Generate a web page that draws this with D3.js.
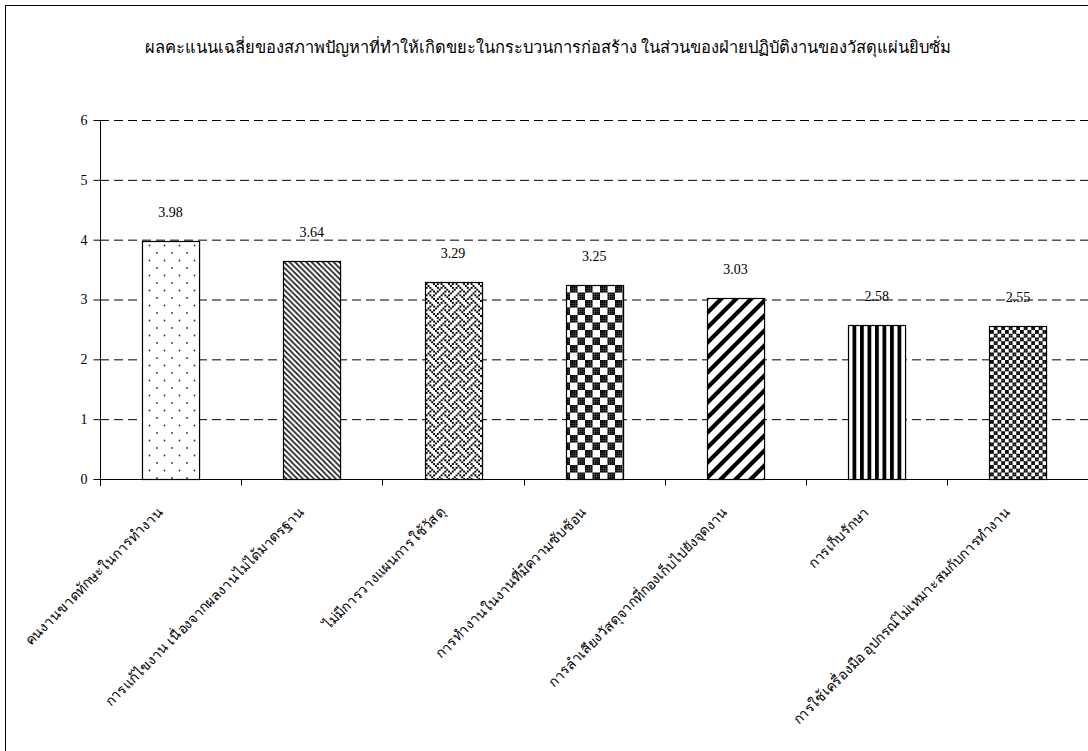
<!DOCTYPE html>
<html>
<head>
<meta charset="utf-8">
<script src="https://cdn.jsdelivr.net/npm/d3@7/dist/d3.min.js"></script>
<style>
  html, body { margin: 0; padding: 0; background: #fff; }
  svg { display: block; }
  text { font-family: "Liberation Serif", "DejaVu Serif", serif; fill: #000; }
</style>
</head>
<body>
<script>
const title = "ผลคะแนนเฉลี่ยของสภาพปัญหาที่ทำให้เกิดขยะในกระบวนการก่อสร้าง ในส่วนของฝ่ายปฏิบัติงานของวัสดุแผ่นยิบซั่ม";
const categories = [
  "คนงานขาดทักษะในการทำงาน",
  "การแก้ไขงาน เนื่องจากผลงานไม่ได้มาตรฐาน",
  "ไม่มีการวางแผนการใช้วัสดุ",
  "การทำงานในงานที่มีความซับซ้อน",
  "การลำเลียงวัสดุจากที่กองเก็บไปยังจุดงาน",
  "การเก็บรักษา",
  "การใช้เครื่องมือ อุปกรณ์ไม่เหมาะสมกับการทำงาน"
];
const values = [3.98, 3.64, 3.29, 3.25, 3.03, 2.58, 2.55];
const valueLabels = ["3.98", "3.64", "3.29", "3.25", "3.03", "2.58", "2.55"];
const yTicks = [0, 1, 2, 3, 4, 5, 6];

const W = 1088, H = 751;
const svg = d3.select("body").append("svg").attr("width", W).attr("height", H);
const defs = svg.append("defs");

// ---- pattern fills (style) ----
const cell = 15 / 8;
function bitmapPattern(id, rows) {
  const p = defs.append("pattern").attr("id", id).attr("patternUnits", "userSpaceOnUse")
    .attr("width", 15).attr("height", 15);
  p.append("rect").attr("width", 15).attr("height", 15).attr("fill", "#fff");
  rows.forEach((r, j) => {
    for (let i = 0; i < 8; i++) {
      if (r[i] === "1") p.append("rect").attr("x", i * cell).attr("y", j * cell)
        .attr("width", cell + 0.05).attr("height", cell + 0.05).attr("fill", "#000");
    }
  });
}
// dots
(function () {
  const p = defs.append("pattern").attr("id", "p0").attr("patternUnits", "userSpaceOnUse")
    .attr("width", 15).attr("height", 15).attr("x", 146).attr("y", 2);
  p.append("rect").attr("width", 15).attr("height", 15).attr("fill", "#fff");
  p.append("circle").attr("cx", 3.5).attr("cy", 3.5).attr("r", 0.9).attr("fill", "#333");
  p.append("circle").attr("cx", 11).attr("cy", 11).attr("r", 0.9).attr("fill", "#333");
})();
// dense downward diagonal
(function () {
  const s = 5.5;
  const p = defs.append("pattern").attr("id", "p1").attr("patternUnits", "userSpaceOnUse")
    .attr("width", s).attr("height", s);
  p.append("rect").attr("width", s).attr("height", s).attr("fill", "#fff");
  p.append("path").attr("d", `M${-s},0 L${s},${2 * s} M0,${-s} L${2 * s},${s} M${-s},${-s} L${2*s},${2*s}`)
    .attr("stroke", "#111").attr("stroke-width", 1.5);
})();
// weave
bitmapPattern("p2", [
  "10001000",
  "01010100",
  "00100010",
  "01000101",
  "10001000",
  "00010101",
  "00100010",
  "01010001"
]);
// large checkerboard
bitmapPattern("p3", [
  "11110000", "11110000", "11110000", "11110000",
  "00001111", "00001111", "00001111", "00001111"
]);
// wide upward diagonal
(function () {
  const s = 15;
  const p = defs.append("pattern").attr("id", "p4").attr("patternUnits", "userSpaceOnUse")
    .attr("width", s).attr("height", s);
  p.append("rect").attr("width", s).attr("height", s).attr("fill", "#fff");
  p.append("path").attr("d", `M${-s},${s} L${s},${-s} M${-s},${2 * s} L${2 * s},${-s} M0,${2 * s} L${2 * s},0`)
    .attr("stroke", "#000").attr("stroke-width", 4.2);
})();
// dark vertical
(function () {
  const s = 7.5;
  const p = defs.append("pattern").attr("id", "p5").attr("patternUnits", "userSpaceOnUse")
    .attr("width", s).attr("height", s).attr("x", 845);
  p.append("rect").attr("width", s).attr("height", s).attr("fill", "#fff");
  p.append("rect").attr("x", 0).attr("width", 3.8).attr("height", s).attr("fill", "#000");
})();
// small checkerboard
bitmapPattern("p6", [
  "11001100", "11001100", "00110011", "00110011",
  "11001100", "11001100", "00110011", "00110011"
]);

// frame
svg.append("rect").attr("x", 5.5).attr("y", 5.5).attr("width", 1200).attr("height", 900)
  .attr("fill", "none").attr("stroke", "#000").attr("stroke-width", 1);

// title
svg.append("text").attr("x", 548).attr("y", 53).attr("text-anchor", "middle")
  .attr("font-size", 16.5).text(title);

// scales
const x = d3.scaleBand().domain(categories).range([100, 1088.6])
  .paddingInner(0.596).paddingOuter(0.298);
const y = d3.scaleLinear().domain([0, 6]).range([479, 120]);

// gridlines
svg.append("g").selectAll("line").data(yTicks.filter(d => d > 0)).join("line")
  .attr("x1", 100).attr("x2", W).attr("y1", d => y(d) + 0.5).attr("y2", d => y(d) + 0.5)
  .attr("stroke", "#000").attr("stroke-width", 1).attr("stroke-dasharray", "9,5");

// bars
svg.append("g").selectAll("rect").data(values).join("rect")
  .attr("x", (d, i) => Math.round(x(categories[i])) + 0.5)
  .attr("y", d => Math.round(y(d)) + 0.5)
  .attr("width", x.bandwidth())
  .attr("height", d => y(0) - Math.round(y(d)))
  .attr("fill", (d, i) => `url(#p${i})`)
  .attr("stroke", "#000").attr("stroke-width", 1.2);

// value labels
svg.append("g").selectAll("text").data(values).join("text")
  .attr("x", (d, i) => x(categories[i]) + x.bandwidth() / 2)
  .attr("y", d => y(d) - 24)
  .attr("text-anchor", "middle").attr("font-size", 14)
  .text((d, i) => valueLabels[i]);

// y axis
const yAxis = svg.append("g").attr("transform", "translate(100.5,0)")
  .call(d3.axisLeft(y).tickValues(yTicks).tickFormat(d3.format("d")).tickSize(7).tickPadding(6));
yAxis.select(".domain").attr("d", `M0,${y(6)}V${y(0) + 7}`);
yAxis.selectAll("text").attr("font-size", 14).attr("font-family", "Liberation Serif, serif");
yAxis.selectAll(".tick line").attr("stroke", "#000");

// x axis
const xAxis = svg.append("g").attr("transform", `translate(0,${y(0) + 0.5})`);
xAxis.append("line").attr("x1", 100).attr("x2", W).attr("stroke", "#000");
const bounds = d3.range(categories.length + 1).map(i => x.range()[0] + i * x.step());
xAxis.selectAll("line.tk").data(bounds).join("line").attr("class", "tk")
  .attr("x1", d => Math.round(d) + 0.5).attr("x2", d => Math.round(d) + 0.5)
  .attr("y1", 0).attr("y2", 6).attr("stroke", "#000");

// category labels
svg.append("g").selectAll("text").data(categories).join("text")
  .attr("transform", d => `translate(${x(d) + x.bandwidth() / 2 - 7},${513}) rotate(-45)`)
  .attr("text-anchor", "end").attr("font-size", 14)
  .text(d => d);
</script>
</body>
</html>
